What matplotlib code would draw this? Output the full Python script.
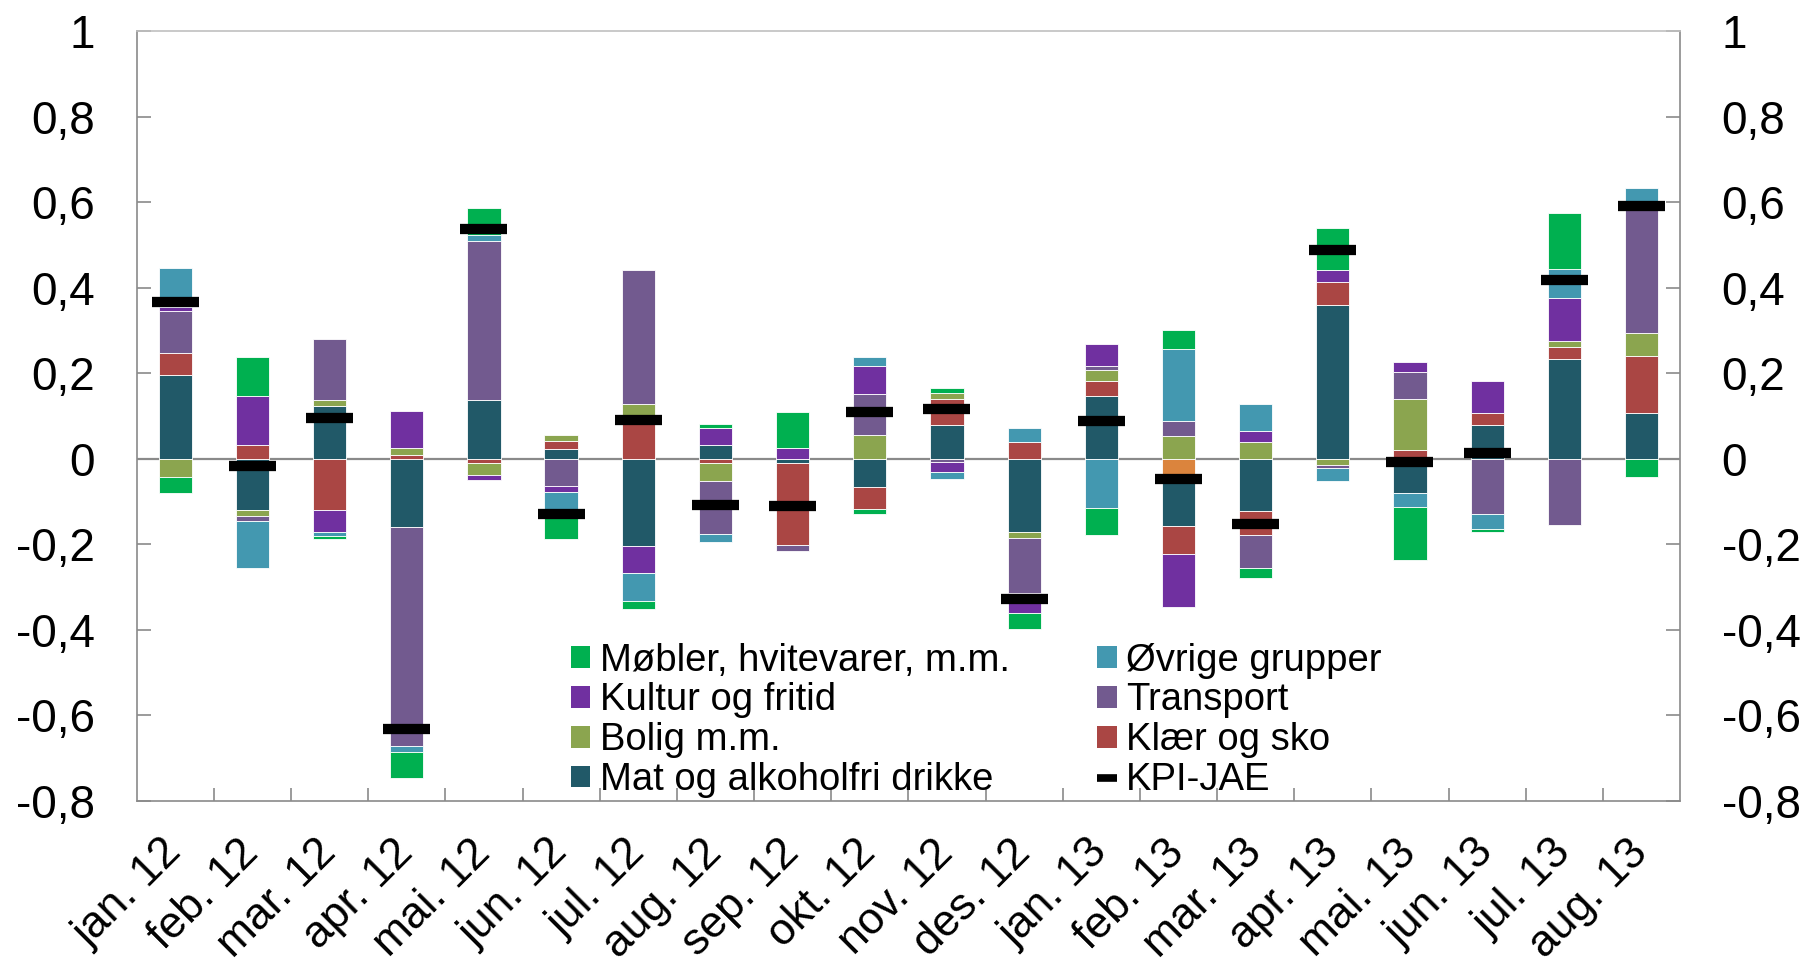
import numpy as np
import matplotlib
matplotlib.use("Agg")
import matplotlib.pyplot as plt
from matplotlib.patches import Patch
from matplotlib.lines import Line2D
from matplotlib.ticker import FuncFormatter, FixedLocator

plt.rcParams['font.family'] = ['Liberation Sans', 'DejaVu Sans']

months = ["jan. 12", "feb. 12", "mar. 12", "apr. 12", "mai. 12", "jun. 12",
          "jul. 12", "aug. 12", "sep. 12", "okt. 12", "nov. 12", "des. 12",
          "jan. 13", "feb. 13", "mar. 13", "apr. 13", "mai. 13", "jun. 13",
          "jul. 13", "aug. 13"]

# bidrag til månedsendring i KPI-JAE, prosentenheter
uspesifisert = [0, 0, 0, 0, 0, 0, 0, 0, 0, 0, 0, 0,
                0, -0.042, 0, 0, 0, 0, 0, 0]
mat = [0.195, -0.119, 0.124, -0.159, 0.136, 0.023, -0.205, 0.033, -0.011, -0.067,
       0.079, -0.171, 0.147, -0.115, -0.123, 0.359, -0.080, 0.079, 0.234, 0.106]
klaer = [0.052, 0.033, -0.119, 0.009, -0.011, 0.018, 0.090, -0.010, -0.192, -0.050,
         0.060, 0.039, 0.034, -0.065, -0.056, 0.055, 0.019, 0.028, 0.028, 0.135]
bolig = [-0.043, -0.015, 0.014, 0.015, -0.027, 0.014, 0.037, -0.043, 0, 0.055,
         0.014, -0.014, 0.026, 0.053, 0.039, -0.015, 0.121, 0, 0.013, 0.052]
transport = [0.098, -0.012, 0.141, -0.512, 0.374, -0.065, 0.314, -0.124, -0.014, 0.096,
             -0.007, -0.130, 0.009, 0.034, -0.076, -0.008, 0.062, -0.130, -0.156, 0.300]
kultur = [0.010, 0.114, -0.053, 0.087, -0.013, -0.014, -0.063, 0.038, 0.025, 0.065,
          -0.025, -0.047, 0.051, -0.126, 0.026, 0.026, 0.025, 0.075, 0.100, 0]
ovrige = [0.091, -0.109, -0.009, -0.015, 0.012, -0.060, -0.066, -0.017, 0, 0.021,
          -0.016, 0.032, -0.116, 0.169, 0.062, -0.029, -0.032, -0.034, 0.068, 0.040]
mobler = [-0.038, 0.090, -0.007, -0.060, 0.065, -0.049, -0.018, 0.011, 0.083, -0.012,
          0.012, -0.037, -0.063, 0.045, -0.023, 0.100, -0.124, -0.008, 0.131, -0.043]
kpi_jae = [0.367, -0.017, 0.094, -0.633, 0.536, -0.130, 0.090, -0.108, -0.110, 0.108,
           0.117, -0.328, 0.089, -0.048, -0.152, 0.489, -0.008, 0.012, 0.418, 0.590]

# stabling nedenfra og opp (navn, verdier, farge)
series = [
    (None, uspesifisert, "#DB843D"),
    ("Mat og alkoholfri drikke", mat, "#215968"),
    ("Klær og sko", klaer, "#AA4644"),
    ("Bolig m.m.", bolig, "#8BA54F"),
    ("Transport", transport, "#725A8F"),
    ("Kultur og fritid", kultur, "#7030A0"),
    ("Øvrige grupper", ovrige, "#4398B0"),
    ("Møbler, hvitevarer, m.m.", mobler, "#00B050"),
]

fig = plt.figure(figsize=(18.1, 9.66), dpi=100)
ax = fig.add_axes([0.0755, 0.1711, 0.8527, 0.7968])

x = np.arange(len(months))
pos = np.zeros(len(months))
neg = np.zeros(len(months))
for name, vals, col in series:
    v = np.array(vals, dtype=float)
    bottom = np.where(v >= 0, pos, neg)
    ax.bar(x, v, width=0.43, bottom=bottom, color=col, edgecolor="white",
           linewidth=0.6, zorder=2)
    pos = pos + np.where(v > 0, v, 0)
    neg = neg + np.where(v < 0, v, 0)

ax.axhline(0, color="#8a8a8a", linewidth=1.6, zorder=1)
ax.hlines(kpi_jae, x - 0.305, x + 0.305, color="black", linewidth=7.4, zorder=3)


def komma(v, p):
    if abs(v) < 1e-9:
        return "0"
    return f"{v:.1f}".rstrip('0').rstrip('.').replace('.', ',')


ax.set_xlim(-0.5, len(months) - 0.5)
ax.set_ylim(-0.8, 1.0)
ax.set_yticks(np.arange(-0.8, 1.01, 0.2))
ax.yaxis.set_major_formatter(FuncFormatter(komma))
ax.tick_params(axis='y', which='major', direction='in', length=10, width=1.2, color="#8a8a8a",
               left=True, right=True, labelleft=True, labelright=True, labelsize=33, pad=30)

ax.set_xticks(x)
ax.set_xticklabels(months, rotation=45, ha='right', va='center', rotation_mode='anchor')
ax.xaxis.set_minor_locator(FixedLocator(np.arange(0.5, len(months) - 1, 1.0)))
ax.tick_params(axis='x', which='major', length=0, labelsize=32, pad=33)
ax.tick_params(axis='x', which='minor', direction='in', length=9.5, width=1.2, color="#8a8a8a")

for side in ["left", "right", "bottom"]:
    ax.spines[side].set_color("#8a8a8a")
    ax.spines[side].set_linewidth(1.2)
ax.spines["top"].set_color("#c0c0c0")
ax.spines["top"].set_linewidth(1.2)

handles = {name: Patch(facecolor=col, edgecolor="none") for name, vals, col in series if name}
kpi_handle = Line2D([], [], color="black", linewidth=5.5, solid_capstyle="butt")
order = ["Møbler, hvitevarer, m.m.", "Kultur og fritid", "Bolig m.m.",
         "Mat og alkoholfri drikke", "Øvrige grupper", "Transport", "Klær og sko"]
leg_handles = [handles[n] for n in order] + [kpi_handle]
leg_labels = order + ["KPI-JAE"]
ax.legend(leg_handles, leg_labels, loc="upper left", bbox_to_anchor=(0.2814, 0.2055),
          ncol=2, frameon=False, fontsize=27.5, borderpad=0, borderaxespad=0,
          handlelength=0.5, handleheight=0.5, handletextpad=0.25,
          labelspacing=0.1, columnspacing=2.3)

fig.savefig("out.png", dpi=100)
